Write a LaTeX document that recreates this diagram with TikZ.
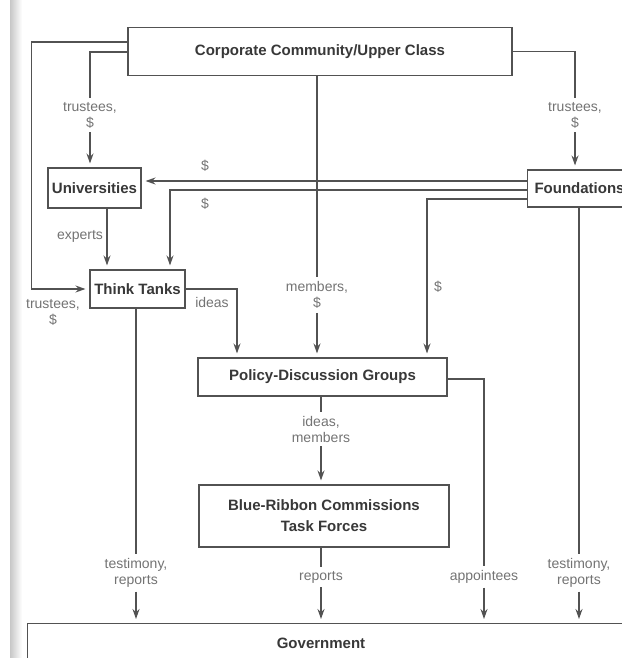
\documentclass[tikz,border=0pt]{standalone}
\usepackage{fontspec}
\setmainfont{Liberation Sans}
\usepackage{tikz}
\usetikzlibrary{arrows.meta,positioning,calc}
\definecolor{linegray}{gray}{0.32}
\definecolor{labgray}{gray}{0.45}
\definecolor{boxtext}{gray}{0.22}

\begin{document}
\begin{tikzpicture}[x=1pt,y=-1pt,
                    box/.style={draw=linegray,line width=1.1pt,fill=white,rectangle,
                      text=boxtext,font=\fontsize{15}{21}\selectfont\bfseries,align=center},
                    lab/.style={text=labgray,font=\fontsize{14}{16}\selectfont,
                      align=center,inner sep=4pt},
                    line/.style={draw=linegray,line width=1.2pt},
                    arr/.style={line,-{Stealth[length=10pt,width=7pt]},shorten >=4pt}]

  \useasboundingbox (0,0) rectangle (621,658);
  % scanner shadow on the left edge
  \fill[left color=black!22,right color=white] (10,0) rectangle (22,658);

  % boxes
  \node (corp) [box,minimum width=384,minimum height=48] at (320,51.5) {Corporate Community/Upper Class};
  \node (univ) [box,minimum width=93,minimum height=40] at (94.5,188) {Universities};
  \node (found) [box,anchor=west,minimum height=37,inner xsep=7pt] at (527,188.5) {Foundations};
  \node (tt) [box,minimum width=95,minimum height=38] at (137.5,289) {Think Tanks};
  \node (pdg) [box,minimum width=249,minimum height=38] at (322.5,377) {Policy-Discussion Groups};
  \node (brc) [box,minimum width=250,minimum height=62] at (324,516) {Blue-Ribbon Commissions\\Task Forces};
  \node (gov) [box,anchor=north west,minimum width=640,minimum height=60] at (27,623) {};
  \node (govtxt) [text=boxtext,font=\fontsize{15}{21}\selectfont\bfseries] at (321,643) {Government};

  % labels
  \node (ul) [lab] at (90,115) {trustees,\\\$};
  \node (fl) [lab] at (575,115) {trustees,\\\$};
  \node (ml) [lab] at (317,295) {members,\\\$};
  \node (ttl) [lab] at (53,312) {trustees,\\\$};
  \node (el) [lab] at (80,236) {experts};
  \node (il) [lab] at (212,302) {ideas};
  \node (d1) [lab] at (205,166) {\$};
  \node (d2) [lab] at (205,204) {\$};
  \node (d3) [lab] at (438,287) {\$};
  \node (iml) [lab] at (321,429) {ideas,\\members};
  \node (tl) [lab] at (136,573) {testimony,\\reports};
  \node (rl) [lab] at (321,577) {reports};
  \node (al) [lab] at (484,577) {appointees};
  \node (tl2) [lab] at (579,573) {testimony,\\reports};

  % corporate community
  \draw[arr] ([yshift=9.5pt]corp.west) -- ++(-96,0) |- (tt.west);
  \draw[line] ([yshift=-0.5pt]corp.west) -| (ul.north);
  \draw[arr] (ul.south) -- (ul.south |- univ.north);
  \draw[line] (corp.east) -| (fl.north);
  \draw[arr] (fl.south) -- (fl.south |- found.north);
  \draw[line] (ml |- corp.south) -- (ml.north);
  \draw[arr] (ml.south) -- (ml.south |- pdg.north);

  % foundations
  \draw[arr] ([yshift=7.5pt]found.west) -- ([yshift=7.5pt]found.west -| univ.east);
  \draw[arr] ([yshift=-1.5pt]found.west) -| ([xshift=32.5pt]tt.north);
  \draw[arr] ([yshift=-10.5pt]found.west) -| ([xshift=104.5pt]pdg.north);
  \draw[line] (tl2 |- found.south) -- (tl2.north);
  \draw[arr] (tl2.south) -- (tl2.south |- gov.north);

  % universities and think tanks
  \draw[arr] ([xshift=12.5pt]univ.south) -- ([xshift=12.5pt]univ.south |- tt.north);
  \draw[arr] (tt.east) -| ([xshift=-85.5pt]pdg.north);
  \draw[line] (tt.south -| tl) -- (tl.north);
  \draw[arr] (tl.south) -- (tl.south |- gov.north);

  % policy groups and commissions
  \draw[line] ([yshift=-2pt]pdg.east) -| (al.north);
  \draw[arr] (al.south) -- (al.south |- gov.north);
  \draw[line] (pdg.south -| iml) -- (iml.north);
  \draw[arr] (iml.south) -- (iml.south |- brc.north);
  \draw[line] (brc.south -| rl) -- (rl.north);
  \draw[arr] (rl.south) -- (rl.south |- gov.north);
\end{tikzpicture}
\end{document}
